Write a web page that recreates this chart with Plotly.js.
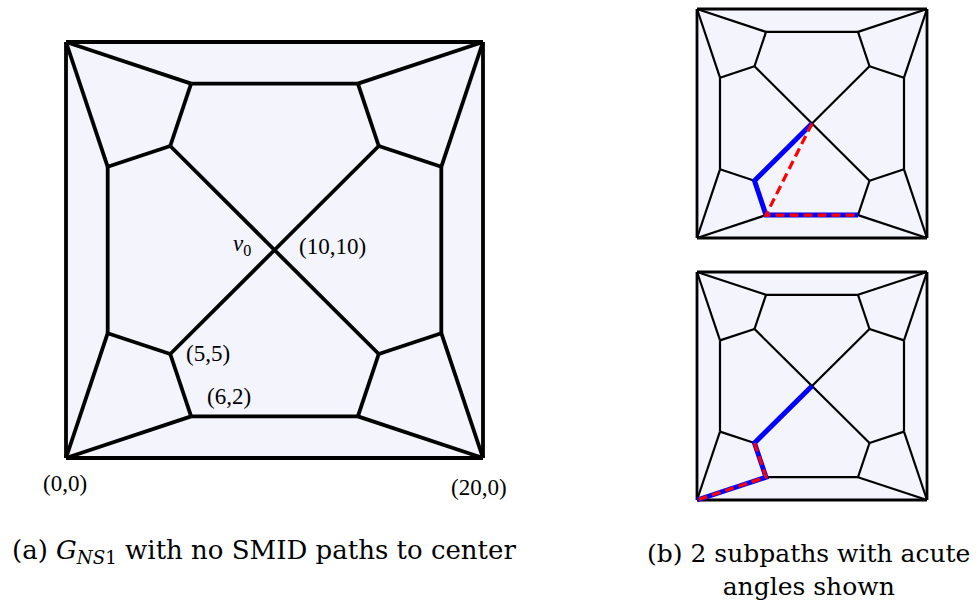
<!DOCTYPE html>
<html>
<head>
<meta charset="utf-8">
<script src="https://cdn.plot.ly/plotly-3.0.1.min.js"></script>
<style>html,body{margin:0;padding:0;background:#fff;}#chart{width:979px;height:604px;}</style>
</head>
<body>
<div id="chart"></div>
<script>
// Vertex coordinates of G_NS1
const vertexX = [0, 20, 20, 0, 2, 5, 6, 14, 15, 18, 18, 15, 14, 6, 5, 2, 10];
const vertexY = [0, 0, 20, 20, 6, 5, 2, 2, 5, 6, 14, 15, 18, 18, 15, 14, 10];
// Outer square edges
const outerEdges = [[0,1],[1,2],[2,3],[3,0]];
// Inner edges
const innerEdges = [
  [0,4],[0,6],[1,7],[1,9],[2,10],[2,12],[3,13],[3,15],
  [4,5],[5,6],[6,7],[7,8],[8,9],[9,10],[10,11],[11,12],[12,13],[13,14],[14,15],[15,4],
  [5,16],[16,11],[14,16],[16,8]
];
// Highlighted subpaths (vertex index sequences)
const topBluePath = [16, 5, 6, 7];
const topRedPath = [16, 6, 7];
const bottomBluePath = [16, 5, 6, 0];
const bottomRedPath = [5, 6, 0];
// Point labels on the left graph
const labelText = ['<i>v</i><sub>0</sub>', '(10,10)', '(5,5)', '(6,2)', '(0,0)', '(20,0)'];
const labelX = [10, 10, 5, 6, 0, 20];
const labelY = [10, 10, 5, 2, 0, 0];
const captionA = '(a) <i>G</i><sub><i>NS</i>1</sub> with no SMID paths to center';
const captionB = '(b) 2 subpaths with acute<br>angles shown';

function edgeXY(edges) {
  const x = [], y = [];
  edges.forEach(([a, b]) => { x.push(vertexX[a], vertexX[b], null); y.push(vertexY[a], vertexY[b], null); });
  return {x, y};
}
function pathXY(path) {
  return {x: path.map(i => vertexX[i]), y: path.map(i => vertexY[i])};
}
const sq = [0, 1, 2, 3, 0];
const sqX = sq.map(i => vertexX[i]), sqY = sq.map(i => vertexY[i]);
const outer = edgeXY(outerEdges), inner = edgeXY(innerEdges);

function graphTraces(ax, wOuter, wInner) {
  const xa = 'x' + ax, ya = 'y' + ax;
  return [
    {x: sqX, y: sqY, xaxis: xa, yaxis: ya, mode: 'lines', fill: 'toself', fillcolor: 'rgb(244,244,253)', line: {width: 0}, hoverinfo: 'skip'},
    {x: inner.x, y: inner.y, xaxis: xa, yaxis: ya, mode: 'lines', line: {color: '#000', width: wInner}, hoverinfo: 'skip'},
    {x: outer.x, y: outer.y, xaxis: xa, yaxis: ya, mode: 'lines', line: {color: '#000', width: wOuter}, hoverinfo: 'skip'}
  ];
}

const data = [].concat(
  graphTraces('', 3.8, 3.8),
  graphTraces('2', 2.8, 2.2),
  graphTraces('3', 2.8, 2.2)
);
const tb = pathXY(topBluePath), tr = pathXY(topRedPath), bb = pathXY(bottomBluePath), br = pathXY(bottomRedPath);
data.push({x: tb.x, y: tb.y, xaxis: 'x2', yaxis: 'y2', mode: 'lines', line: {color: '#0000ff', width: 5}, hoverinfo: 'skip'});
data.push({x: tr.x, y: tr.y, xaxis: 'x2', yaxis: 'y2', mode: 'lines', line: {color: '#ff0000', width: 3.2, dash: '9px,5px'}, hoverinfo: 'skip'});
data.push({x: bb.x, y: bb.y, xaxis: 'x3', yaxis: 'y3', mode: 'lines', line: {color: '#0000ff', width: 5}, hoverinfo: 'skip'});
data.push({x: br.x, y: br.y, xaxis: 'x3', yaxis: 'y3', mode: 'lines', line: {color: '#ff0000', width: 3.2, dash: '9px,5px'}, hoverinfo: 'skip'});

const W = 979, H = 604;
// pixel placement helpers (style only)
function xdom(p0, p1, pad) { const u = (p1 - p0) / 20; return [(p0 - pad * u) / W, (p1 + pad * u) / W]; }
function ydom(top, bottom, pad) { const u = (bottom - top) / 20; return [(H - bottom - pad * u) / H, (H - top + pad * u) / H]; }
const hid = {visible: false, fixedrange: true};
const lab = {family: 'Liberation Serif', size: 23, color: '#000'};
const shifts = [[-22, 5, 'right'], [22, 4, 'left'], [14, 1, 'left'], [14, 20, 'left'], [-1, -25, 'center'], [-4, -29, 'center']];
const annotations = labelText.map((t, i) => ({
  text: t, x: labelX[i], y: labelY[i], xref: 'x', yref: 'y', showarrow: false,
  xanchor: shifts[i][2], yanchor: 'middle', xshift: shifts[i][0], yshift: shifts[i][1], font: lab
}));
const capFont = {family: 'DejaVu Serif', size: 26, color: '#000'};
const capFontB = {family: 'DejaVu Serif', size: 25, color: '#000'};
annotations.push({text: captionA, xref: 'paper', yref: 'paper', x: 264 / W, y: (H - 551) / H, xanchor: 'center', yanchor: 'middle', showarrow: false, font: capFont});
annotations.push({text: captionB, xref: 'paper', yref: 'paper', x: 808 / W, y: (H - 570) / H, xanchor: 'center', yanchor: 'middle', align: 'center', showarrow: false, font: capFontB});

const layout = {
  width: W, height: H, margin: {l: 0, r: 0, t: 0, b: 0},
  paper_bgcolor: '#fff', plot_bgcolor: 'rgba(0,0,0,0)', showlegend: false,
  xaxis: Object.assign({domain: xdom(66, 483, 1), range: [-1, 21]}, hid),
  yaxis: Object.assign({domain: ydom(42, 458, 1), range: [-1, 21]}, hid),
  xaxis2: Object.assign({domain: xdom(697, 927, 0.5), range: [-0.5, 20.5]}, hid),
  yaxis2: Object.assign({domain: ydom(9, 238, 0.4), range: [-0.4, 20.4]}, hid),
  xaxis3: Object.assign({domain: xdom(697, 927, 0.5), range: [-0.5, 20.5]}, hid),
  yaxis3: Object.assign({domain: ydom(272, 500, 0.5), range: [-0.5, 20.5]}, hid),
  annotations: annotations
};
Plotly.newPlot('chart', data, layout, {staticPlot: true, displayModeBar: false});
</script>
</body>
</html>
